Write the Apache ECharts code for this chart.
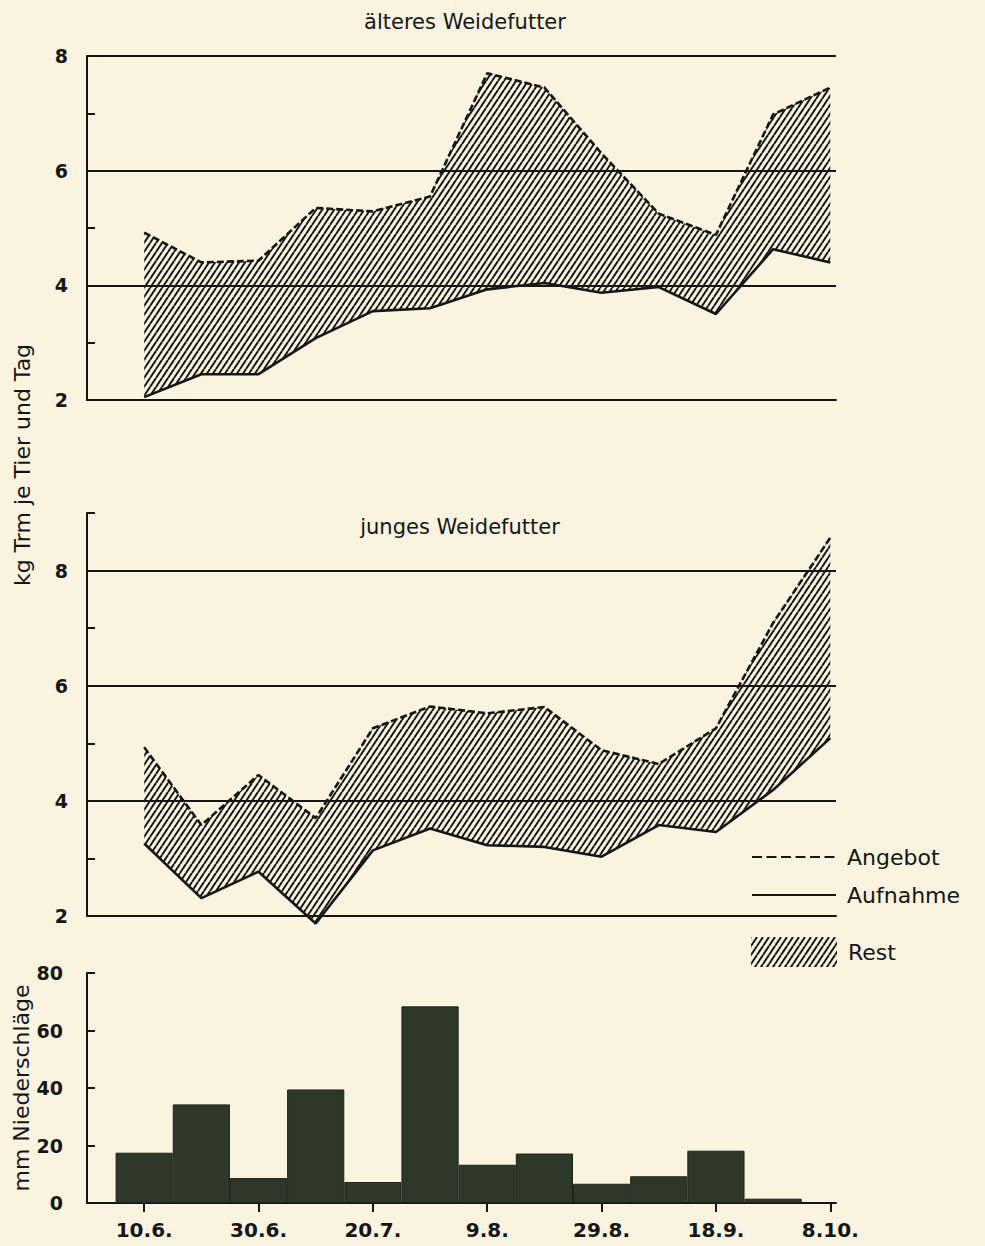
<!DOCTYPE html>
<html>
<head>
<meta charset="utf-8">
<script src="https://cdn.jsdelivr.net/npm/echarts@6/dist/echarts.min.js"></script>
<style>
html,body{margin:0;padding:0;background:#f9f3e0;}
#c{width:985px;height:1246px;}
</style>
</head>
<body>
<div id="c"></div>
<script>
// ---------- data ----------
const dates = ['10.6.','20.6.','30.6.','10.7.','20.7.','30.7.','9.8.','19.8.','29.8.','8.9.','18.9.','28.9.','8.10.'];
const days = [10,20,30,40,50,60,70,80,90,100,110,120,130]; // days after 31 May
const olderOffer  = [4.92, 4.40, 4.43, 5.35, 5.29, 5.55, 7.70, 7.45, 6.30, 5.25, 4.88, 6.98, 7.45];
const olderIntake = [2.05, 2.45, 2.45, 3.08, 3.55, 3.60, 3.93, 4.04, 3.87, 3.97, 3.50, 4.63, 4.40];
const youngOffer  = [4.93, 3.58, 4.45, 3.70, 5.26, 5.64, 5.52, 5.63, 4.88, 4.64, 5.26, 7.09, 8.57];
const youngIntake = [3.26, 2.31, 2.77, 1.87, 3.14, 3.52, 3.23, 3.20, 3.03, 3.58, 3.46, 4.19, 5.09];
const rainDays = [10,20,30,40,50,60,70,80,90,100,110,120];
const rain = [17.5, 34.3, 8.7, 39.5, 7.3, 68.4, 13.3, 17.2, 6.7, 9.3, 18.2, 1.5];
const xTickDays = [10,30,50,70,90,110,130];
const xTickLabels = ['10.6.','30.6.','20.7.','9.8.','29.8.','18.9.','8.10.'];
const feedLabelValues = [2,4,6,8];
const feedGridValues = [4,6,8];
const rainLabelValues = [0,20,40,60,80];

// ---------- style ----------
const INK = '#161616';
const BAR = '#2d3829';
const FONT = '"DejaVu Sans", "Liberation Sans", sans-serif';
const NUMFONT = '"DejaVu Sans", "Liberation Sans", sans-serif';
const GRID_W = 749;
const X_MIN = 0, X_MAX = 131;
const barW = GRID_W / (X_MAX - X_MIN) * 10;

function hatchCanvas() {
  const W = 6, H = 9;
  const c = document.createElement('canvas');
  c.width = W; c.height = H;
  const g = c.getContext('2d');
  g.strokeStyle = INK;
  g.lineWidth = 2.0;
  for (const o of [-W, 0, W]) {
    g.beginPath(); g.moveTo(o, H); g.lineTo(o + W, 0); g.stroke();
  }
  return c;
}
const hc = hatchCanvas();
const hatch = { image: hc, repeat: 'repeat', imageWidth: hc.width, imageHeight: hc.height };

const pairs = (xs, ys) => xs.map((x, i) => [x, ys[i]]);

function bandSeries(idx, offer, intake) {
  return {
    name: 'Rest', type: 'custom', xAxisIndex: idx, yAxisIndex: idx, z: 2, clip: false,
    data: days.map((d, i) => [d, offer[i], intake[i]]),
    encode: { x: 0, y: [1, 2] },
    itemStyle: { color: hatch },
    renderItem: function (params, api) {
      if (params.dataIndex !== 0) return null;
      const pts = [];
      for (let i = 0; i < days.length; i++) pts.push(api.coord([days[i], offer[i]]));
      for (let i = days.length - 1; i >= 0; i--) pts.push(api.coord([days[i], intake[i]]));
      return { type: 'polygon', shape: { points: pts }, style: { fill: hatch, stroke: null } };
    }
  };
}

function feedSeries(idx, offer, intake) {
  return [
    bandSeries(idx, offer, intake),
    {
      name: 'Aufnahme', type: 'line', xAxisIndex: idx, yAxisIndex: idx,
      data: pairs(days, intake), symbol: 'none', clip: false, z: 4,
      lineStyle: { color: INK, width: 2.6 },
      itemStyle: { color: INK },
      markLine: {
        silent: true, symbol: ['none', 'none'], label: { show: false },
        lineStyle: { color: INK, width: 2, type: 'solid' },
        data: feedGridValues.map(v => ({ yAxis: v }))
      }
    },
    {
      name: 'Angebot', type: 'line', xAxisIndex: idx, yAxisIndex: idx,
      data: pairs(days, offer), symbol: 'none', clip: false, z: 5,
      lineStyle: { color: INK, width: 2.6, type: [7, 3] },
      itemStyle: { color: INK }
    }
  ];
}

const plainX = (gi) => ({
  gridIndex: gi, type: 'value', min: X_MIN, max: X_MAX,
  axisLine: { show: true, onZero: false, lineStyle: { color: INK, width: 2 } },
  axisTick: { show: false }, axisLabel: { show: false }, splitLine: { show: false }
});

const feedY = (gi, max) => ({
  gridIndex: gi, type: 'value', min: 2, max: max, interval: 1,
  axisLine: { show: true, lineStyle: { color: INK, width: 2 } },
  axisTick: { show: true, inside: true, length: 8, lineStyle: { color: INK, width: 2 } },
  axisLabel: {
    margin: 19, color: INK, fontFamily: NUMFONT, fontWeight: 'bold', fontSize: 19,
    formatter: v => feedLabelValues.includes(v) ? String(v) : ''
  },
  splitLine: { show: false }
});

const legendText = { fontFamily: FONT, fontSize: 22, color: INK, padding: [0, 0, 0, 6] };
const hiddenSymbol = { opacity: 0, color: 'transparent', borderWidth: 0 };

const option = {
  backgroundColor: '#f9f3e0',
  animation: false,
  title: [
    { text: 'älteres Weidefutter', left: 460, top: 6, textAlign: 'center',
      textStyle: { fontFamily: FONT, fontSize: 21, fontWeight: 'normal', color: INK } },
    { text: 'junges Weidefutter', left: 455, top: 511, textAlign: 'center',
      textStyle: { fontFamily: FONT, fontSize: 21, fontWeight: 'normal', color: INK } }
  ],
  grid: [
    { left: 87, top: 56, width: GRID_W, height: 344, outerBoundsMode: 'none', containLabel: false },
    { left: 87, top: 513, width: GRID_W, height: 403, outerBoundsMode: 'none', containLabel: false },
    { left: 87, top: 973, width: GRID_W, height: 230, outerBoundsMode: 'none', containLabel: false }
  ],
  legend: [
    { data: [{ name: 'Angebot', itemStyle: hiddenSymbol }], left: 746, top: 841, itemWidth: 84, itemHeight: 24,
      selectedMode: false, itemStyle: hiddenSymbol,
      lineStyle: { type: [10, 4.5], width: 2 }, textStyle: legendText },
    { data: [{ name: 'Aufnahme', itemStyle: hiddenSymbol }], left: 746, top: 879, itemWidth: 84, itemHeight: 24,
      selectedMode: false, itemStyle: hiddenSymbol,
      lineStyle: { width: 2 }, textStyle: legendText },
    { data: [{ name: 'Rest', icon: 'rect', itemStyle: { color: hatch, borderWidth: 0 } }],
      left: 746, top: 932, itemWidth: 86, itemHeight: 30, selectedMode: false,
      textStyle: legendText }
  ],
  xAxis: [
    plainX(0),
    plainX(1),
    {
      gridIndex: 2, type: 'value', min: X_MIN, max: X_MAX,
      axisLine: { show: true, onZero: false, lineStyle: { color: INK, width: 2 } },
      axisTick: { show: true, customValues: xTickDays, length: 9, lineStyle: { color: INK, width: 2 } },
      axisLabel: {
        customValues: xTickDays, margin: 17, color: INK, fontFamily: NUMFONT, fontWeight: 'bold', fontSize: 20,
        formatter: v => xTickLabels[xTickDays.indexOf(v)] || ''
      },
      splitLine: { show: false }
    }
  ],
  yAxis: [
    feedY(0, 8),
    feedY(1, 9),
    {
      gridIndex: 2, type: 'value', min: 0, max: 80, interval: 20,
      name: 'mm Niederschläge', nameLocation: 'middle', nameGap: 55, nameRotate: 90,
      nameMoveOverlap: false,
      nameTextStyle: { fontFamily: FONT, fontSize: 22, color: INK },
      axisLine: { show: true, lineStyle: { color: INK, width: 2 } },
      axisTick: { show: true, inside: true, length: 8, lineStyle: { color: INK, width: 2 } },
      axisLabel: {
        margin: 24, color: INK, fontFamily: NUMFONT, fontWeight: 'bold', fontSize: 19,
        formatter: v => rainLabelValues.includes(v) ? String(v) : ''
      },
      splitLine: { show: false }
    }
  ],
  graphic: [
    { type: 'text', x: 22, y: 465, rotation: Math.PI / 2, z: 10,
      style: { text: 'kg Trm je Tier und Tag', fill: INK, font: '22px ' + FONT,
               textAlign: 'center', textVerticalAlign: 'middle' } }
  ],
  series: [
    ...feedSeries(0, olderOffer, olderIntake),
    ...feedSeries(1, youngOffer, youngIntake),
    {
      name: 'Niederschlag', type: 'bar', xAxisIndex: 2, yAxisIndex: 2,
      data: pairs(rainDays, rain), barWidth: barW,
      itemStyle: { color: BAR, borderColor: '#1d241b', borderWidth: 1 }
    }
  ]
};

const chart = echarts.init(document.getElementById('c'), null, { renderer: 'svg' });
chart.setOption(option);
</script>
</body>
</html>
